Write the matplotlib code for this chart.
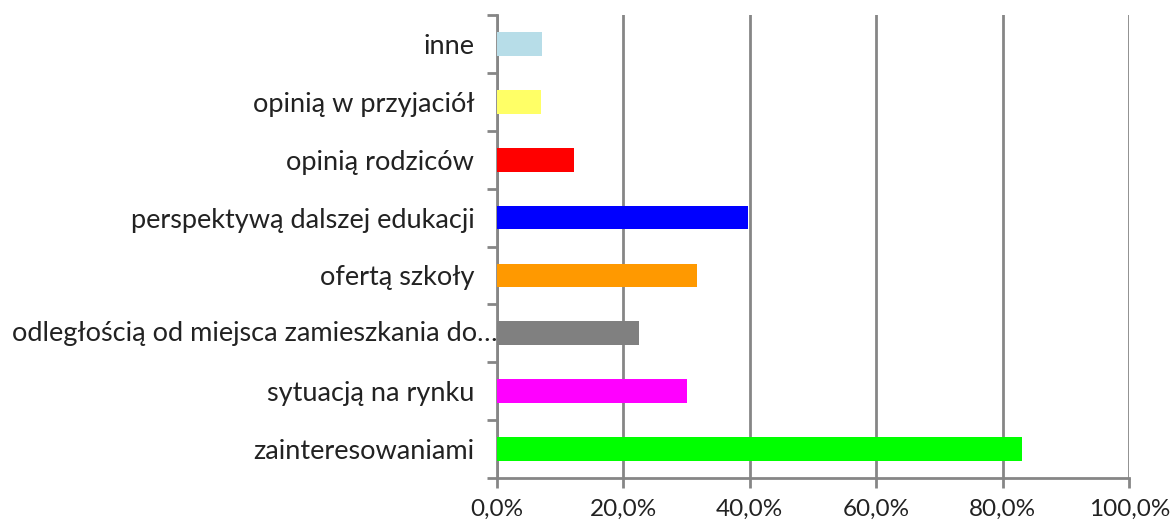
import numpy as np
import matplotlib.pyplot as plt
from matplotlib.ticker import FuncFormatter, FixedLocator

plt.rcParams['font.family'] = ['Lato', 'DejaVu Sans']

kategorie = ["zainteresowaniami", "sytuacją na rynku",
             "odległością od miejsca zamieszkania do…", "ofertą szkoły",
             "perspektywą dalszej edukacji", "opinią rodziców",
             "opinią w przyjaciół", "inne"]
wartosci = [83.0, 30.1, 22.5, 31.7, 39.7, 12.2, 7.1, 7.2]
kolory = ["#00ff00", "#ff00ff", "#808080", "#ff9900",
          "#0000ff", "#ff0000", "#ffff66", "#b7dde8"]
x_ticki = [0, 20, 40, 60, 80, 100]

fig = plt.figure(figsize=(11.76, 5.23), dpi=100)
ax = fig.add_axes([0.4222, 0.086, 0.5381, 0.8853])

y = np.arange(len(kategorie))
ax.barh(y, wartosci, height=0.41, color=kolory, zorder=3)

szary = "#868686"
ax.set_xlim(0, 100)
ax.set_ylim(-0.5, len(kategorie) - 0.5)
ax.set_xticks(x_ticki)
ax.xaxis.set_major_formatter(FuncFormatter(lambda v, p: f"{v:.1f}%".replace(".", ",")))
ax.grid(axis="x", color=szary, linewidth=2, zorder=0)

# najdluzsza etykieta w oryginale wchodzi prawie na os - rysowana osobno
dluga = max(range(len(kategorie)), key=lambda i: len(kategorie[i]))
etykiety = [k if i != dluga else "" for i, k in enumerate(kategorie)]
ax.set_yticks(y)
ax.set_yticklabels(etykiety)
ax.annotate(kategorie[dluga], xy=(0, y[dluga]), xytext=(1, 0), textcoords="offset points",
            ha="right", va="center", fontsize=19.5, color="#222222", annotation_clip=False)

ax.yaxis.set_minor_locator(FixedLocator(np.arange(-0.5, len(kategorie), 1)))
ax.tick_params(axis="y", which="major", length=0, pad=16, labelsize=19.5, labelcolor="#222222")
ax.tick_params(axis="y", which="minor", length=7, width=2, color=szary, direction="out")
ax.tick_params(axis="x", length=7, width=2, color=szary, pad=8, labelsize=17.5, labelcolor="#222222")

for s in ["top", "right"]:
    ax.spines[s].set_visible(False)
for s in ["left", "bottom"]:
    ax.spines[s].set_color(szary)
    ax.spines[s].set_linewidth(2)

fig.savefig("out.png", dpi=100)
